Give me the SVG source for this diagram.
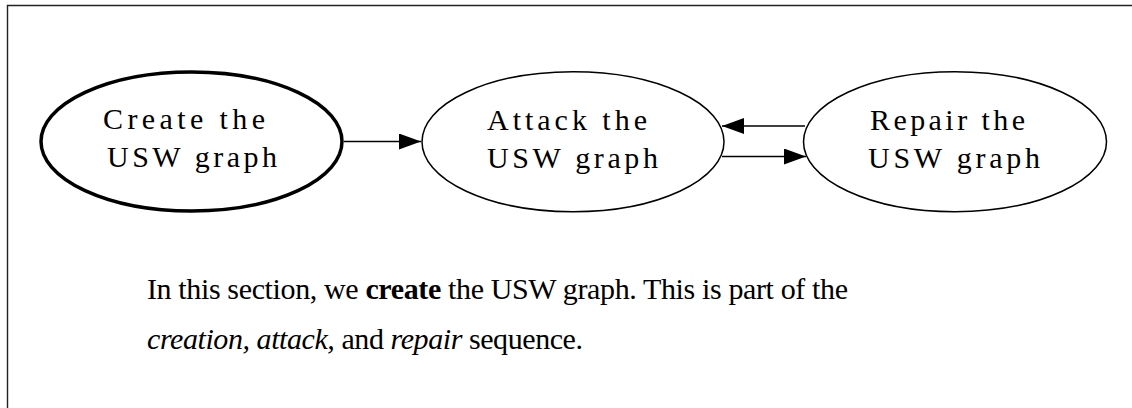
<svg xmlns="http://www.w3.org/2000/svg" width="1132" height="408" viewBox="0 0 1132 408">
<style>
.node ellipse{fill:#fff;stroke:#000;stroke-width:1.5}
.node text{font-family:"Liberation Serif","Times New Roman",serif;font-size:30px;fill:#000}
.edge{stroke:#000;stroke-width:1.5;fill:none}
.cap{font-family:"Liberation Serif","Times New Roman",serif;font-size:30px;fill:#000}
</style>
<defs>
<marker id="ah" viewBox="0 0 22 16" refX="22" refY="8" markerWidth="22" markerHeight="16" markerUnits="userSpaceOnUse" orient="auto">
<path d="M0,0 L22,8 L0,16 Z" fill="#000"/>
</marker>
</defs>
<rect x="0" y="0" width="1132" height="408" fill="#fff"/>
<path d="M7.5,408 V5.5 H1132" fill="none" stroke="#222" stroke-width="1.4"/>
<g id="connectors">
<line class="edge" x1="344" y1="141.5" x2="421" y2="141.5" marker-end="url(#ah)"/>
<line class="edge" x1="805" y1="126" x2="722" y2="126" marker-end="url(#ah)"/>
<line class="edge" x1="722" y1="156.5" x2="806" y2="156.5" marker-end="url(#ah)"/>
</g>
<g id="create" class="node">
<ellipse cx="191.5" cy="141.5" rx="150.5" ry="69.5" style="stroke-width:3.5"/>
<text x="103" y="129" textLength="162" lengthAdjust="spacing">Create the</text>
<text x="107" y="167" textLength="170" lengthAdjust="spacing">USW graph</text>
</g>
<g id="attack" class="node">
<ellipse cx="573" cy="141.7" rx="151" ry="70"/>
<text x="487" y="130" textLength="160" lengthAdjust="spacing">Attack the</text>
<text x="487" y="168" textLength="171" lengthAdjust="spacing">USW graph</text>
</g>
<g id="repair" class="node">
<ellipse cx="955" cy="141.7" rx="151.5" ry="70"/>
<text x="870" y="130" textLength="155" lengthAdjust="spacing">Repair the</text>
<text x="868" y="168" textLength="172" lengthAdjust="spacing">USW graph</text>
</g>
<g id="caption">
<text class="cap" x="147" y="299" textLength="701" lengthAdjust="spacing">In this section, we <tspan font-weight="bold">create</tspan> the USW graph. This is part of the</text>
<text class="cap" x="147" y="349" textLength="436" lengthAdjust="spacing"><tspan font-style="italic">creation,</tspan> <tspan font-style="italic">attack,</tspan> and <tspan font-style="italic">repair</tspan> sequence.</text>
</g>
</svg>
